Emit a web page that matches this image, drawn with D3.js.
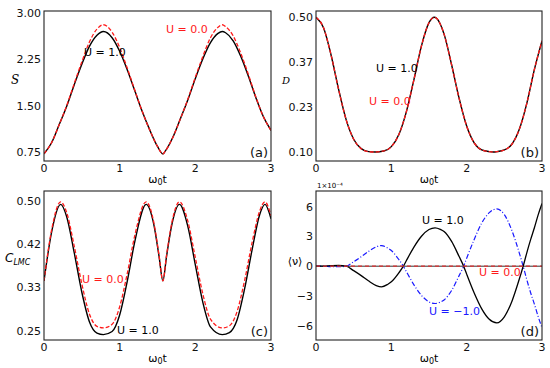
<!DOCTYPE html>
<html lang="en">
<head>
<meta charset="UTF-8">
<title>Entropy, disequilibrium, LMC complexity</title>
<script src="https://cdn.jsdelivr.net/npm/d3@7"></script>
<style>
    body { margin: 0; background: #fff; }
    svg { font-family: "DejaVu Sans", sans-serif; }
    .frame { fill: none; stroke: #222; stroke-width: 1.1px; }
    .tick-label { font-size: 11px; fill: #111; }
    .line { fill: none; }
    .note { font-size: 11px; }
    .panel-tag { font-size: 13px; fill: #111; }
</style>
</head>
<body>
<div id="chart"></div>
<script>
// time grids (omega_0 t)
const tAB = [0, 0.1, 0.2, 0.3, 0.4, 0.5, 0.6, 0.7, 0.785, 0.9, 1.0, 1.1, 1.2, 1.3, 1.4, 1.5, 1.571,
    1.6, 1.7, 1.8, 1.9, 2.0, 2.1, 2.2, 2.3, 2.356, 2.4, 2.5, 2.6, 2.7, 2.8, 2.9, 3.0];
const tC = [0, 0.1, 0.22, 0.3, 0.4, 0.5, 0.6, 0.7, 0.785, 0.9, 1.0, 1.1, 1.2, 1.35, 1.45, 1.52, 1.571,
    1.62, 1.69, 1.79, 1.9, 2.0, 2.1, 2.2, 2.356, 2.45, 2.55, 2.65, 2.75, 2.85, 2.92, 3.0];
const tD = [0, 0.1, 0.2, 0.3, 0.4, 0.5, 0.6, 0.7, 0.8, 0.87, 0.95, 1.0, 1.1, 1.16, 1.2, 1.3, 1.4, 1.5,
    1.58, 1.65, 1.7, 1.8, 1.9, 1.96, 2.0, 2.1, 2.2, 2.3, 2.4, 2.5, 2.6, 2.7, 2.75, 2.8, 2.85, 2.9, 2.95, 3.0];

// (a) entropy S
const sU1 = [0.72, 0.90, 1.19, 1.49, 1.84, 2.17, 2.46, 2.64, 2.70, 2.60, 2.38, 2.08, 1.74, 1.40, 1.10, 0.84, 0.72,
    0.76, 0.98, 1.28, 1.59, 1.94, 2.26, 2.52, 2.67, 2.70, 2.68, 2.55, 2.30, 1.98, 1.63, 1.32, 1.10];
const sU0 = [0.72, 0.90, 1.19, 1.50, 1.86, 2.21, 2.53, 2.74, 2.81, 2.69, 2.44, 2.11, 1.75, 1.40, 1.10, 0.84, 0.72,
    0.76, 0.98, 1.28, 1.60, 1.96, 2.30, 2.60, 2.77, 2.81, 2.78, 2.63, 2.35, 2.01, 1.64, 1.32, 1.10];

// (b) disequilibrium D
const dU1 = [0.500, 0.469, 0.388, 0.286, 0.196, 0.138, 0.110, 0.101, 0.100, 0.103, 0.116, 0.152, 0.220, 0.315, 0.415, 0.484, 0.500,
    0.497, 0.450, 0.359, 0.259, 0.177, 0.127, 0.106, 0.101, 0.100, 0.101, 0.106, 0.123, 0.168, 0.246, 0.346, 0.430];
const dU0 = [0.500, 0.469, 0.388, 0.286, 0.196, 0.138, 0.110, 0.101, 0.100, 0.103, 0.116, 0.152, 0.220, 0.315, 0.415, 0.484, 0.500,
    0.497, 0.450, 0.359, 0.259, 0.177, 0.127, 0.106, 0.101, 0.100, 0.101, 0.106, 0.123, 0.168, 0.246, 0.346, 0.430];

// (c) LMC complexity
const cU1 = [0.346, 0.440, 0.494, 0.470, 0.400, 0.324, 0.267, 0.245, 0.242, 0.248, 0.280, 0.345, 0.422, 0.494, 0.456, 0.394, 0.346,
    0.394, 0.455, 0.494, 0.452, 0.377, 0.304, 0.257, 0.242, 0.246, 0.270, 0.330, 0.406, 0.474, 0.494, 0.466];
const cU0 = [0.346, 0.444, 0.499, 0.478, 0.413, 0.340, 0.282, 0.258, 0.255, 0.262, 0.296, 0.360, 0.434, 0.499, 0.460, 0.396, 0.346,
    0.396, 0.459, 0.499, 0.462, 0.391, 0.320, 0.272, 0.255, 0.259, 0.286, 0.346, 0.420, 0.481, 0.499, 0.472];

// (d) <nu>, units of 1e-4
const nU1 = [0, 0.0, 0.05, 0.08, 0.0, -0.45, -0.95, -1.5, -1.95, -2.08, -1.84, -1.58, -0.67, 0, 0.57, 1.93, 3.02, 3.7,
    3.87, 3.72, 3.5, 2.5, 0.97, 0, -0.8, -2.7, -4.3, -5.35, -5.71, -5.1, -3.55, -1.27, 0, 1.4, 2.7, 3.9, 5.2, 6.32];
const nUm1 = [0, 0.0, -0.05, -0.05, 0.0, 0.45, 0.95, 1.5, 1.95, 2.08, 1.84, 1.58, 0.67, 0, -0.55, -1.88, -2.94, -3.6,
    -3.76, -3.62, -3.4, -2.45, -0.95, 0, 0.8, 2.7, 4.35, 5.4, 5.78, 5.2, 3.6, 1.3, 0, -1.4, -2.7, -3.85, -5.1, -6.2];
const nU0 = tD.map(() => 0);

const W = 550, H = 368;
const svg = d3.select("#chart").append("svg")
    .attr("width", W).attr("height", H);

function drawPanel(p) {
    const x = d3.scaleLinear().domain([0, 3]).range([p.x0, p.x1]);
    const y = d3.scaleLinear().domain(p.yDom).range(p.yRng);
    const g = svg.append("g");

    const clipId = "clip-" + p.tag;
    svg.append("clipPath").attr("id", clipId)
        .append("rect")
        .attr("x", p.x0).attr("y", p.y0)
        .attr("width", p.x1 - p.x0).attr("height", p.y1 - p.y0);

    const lines = g.append("g").attr("clip-path", `url(#${clipId})`);
    if (p.zeroLine) {
        lines.append("line")
            .attr("x1", p.x0).attr("x2", p.x1)
            .attr("y1", y(0)).attr("y2", y(0))
            .attr("stroke", "#333").attr("stroke-width", 1);
    }
    p.series.forEach(s => {
        const line = d3.line()
            .x((d, i) => x(s.t[i]))
            .y(d => y(d))
            .curve(d3.curveMonotoneX);
        lines.append("path")
            .classed("line", true)
            .attr("d", line(s.v))
            .attr("stroke", s.color)
            .attr("stroke-width", s.width)
            .attr("stroke-dasharray", s.dash || null);
    });

    g.append("rect").classed("frame", true)
        .attr("x", p.x0).attr("y", p.y0)
        .attr("width", p.x1 - p.x0).attr("height", p.y1 - p.y0);

    // x ticks
    g.selectAll(".xt").data([0, 1, 2, 3]).join("text")
        .attr("class", "tick-label")
        .attr("x", d => x(d)).attr("y", p.y1 + 11)
        .attr("text-anchor", "middle")
        .text(d => d);
    // y ticks
    g.selectAll(".yt").data(p.yTicks).join("text")
        .attr("class", "tick-label")
        .attr("x", p.x0 - 3).attr("y", d => y(d) + 4)
        .attr("text-anchor", "end")
        .text(d => p.fmt(d));

    // x label
    const xl = g.append("text")
        .attr("x", (p.x0 + p.x1) / 2).attr("y", p.y1 + 22)
        .attr("text-anchor", "middle").attr("font-size", 11);
    xl.append("tspan").text("ω");
    xl.append("tspan").attr("font-size", 8).attr("dy", 2).text("0");
    xl.append("tspan").attr("dy", -2).text("t");

    g.append("text").classed("panel-tag", true)
        .attr("x", p.x1 - 3).attr("y", p.y1 - 4)
        .attr("text-anchor", "end")
        .text(`(${p.tag})`);

    p.notes.forEach(n => {
        g.append("text").classed("note", true)
            .attr("x", n.x).attr("y", n.y)
            .attr("fill", n.color)
            .text(n.text);
    });
    return g;
}

const red = "#ff1a1a", blue = "#1a1aff";

const ga = drawPanel({
    tag: "a", x0: 44, x1: 271, y0: 11, y1: 161,
    yDom: [0.75, 3.0], yRng: [152, 13],
    yTicks: [0.75, 1.5, 2.25, 3.0], fmt: d3.format(".2f"),
    series: [
        { t: tAB, v: sU1, color: "#000", width: 1.4 },
        { t: tAB, v: sU0, color: red, width: 1.3, dash: "4,2" }
    ],
    notes: [
        { x: 84, y: 56, color: "#000", text: "U = 1.0" },
        { x: 166, y: 33, color: red, text: "U = 0.0" }
    ]
});
ga.append("text").attr("x", 15).attr("y", 84)
    .attr("font-family", "DejaVu Serif").attr("font-style", "italic")
    .attr("font-size", 12).attr("text-anchor", "middle").text("S");

const gb = drawPanel({
    tag: "b", x0: 316, x1: 542, y0: 11, y1: 161,
    yDom: [0.1, 0.5], yRng: [152, 17.3],
    yTicks: [0.1, 0.2333, 0.3667, 0.5], fmt: d3.format(".2f"),
    series: [
        { t: tAB, v: dU1, color: "#000", width: 1.4 },
        { t: tAB, v: dU0, color: red, width: 1.3, dash: "4,2" }
    ],
    notes: [
        { x: 376, y: 72, color: "#000", text: "U = 1.0" },
        { x: 369, y: 105, color: red, text: "U = 0.0" }
    ]
});
gb.append("text").attr("x", 286).attr("y", 84)
    .attr("font-family", "DejaVu Serif").attr("font-style", "italic")
    .attr("font-size", 10).attr("text-anchor", "middle").text("D");

const gc = drawPanel({
    tag: "c", x0: 44, x1: 271, y0: 191, y1: 340,
    yDom: [0.25, 0.5], yRng: [330.5, 201.3],
    yTicks: [0.25, 0.3333, 0.4167, 0.5], fmt: d3.format(".2f"),
    series: [
        { t: tC, v: cU1, color: "#000", width: 1.4 },
        { t: tC, v: cU0, color: red, width: 1.3, dash: "4,2" }
    ],
    notes: [
        { x: 82, y: 283, color: red, text: "U = 0.0" },
        { x: 117, y: 334, color: "#000", text: "U = 1.0" }
    ]
});
const cl = gc.append("text").attr("x", 5).attr("y", 262)
    .attr("font-family", "DejaVu Sans").attr("font-style", "italic").attr("font-size", 12);
cl.append("tspan").text("C");
cl.append("tspan").attr("font-size", 8).attr("dy", 3).text("LMC");

const gd = drawPanel({
    tag: "d", x0: 316, x1: 542, y0: 191, y1: 340,
    yDom: [-6, 6], yRng: [325.7, 206.7],
    yTicks: [-6, -3, 0, 3, 6], fmt: d3.format("d"),
    zeroLine: true,
    series: [
        { t: tD, v: nUm1, color: blue, width: 1.2, dash: "5,2,1,2" },
        { t: tD, v: nU1, color: "#000", width: 1.3 },
        { t: tD, v: nU0, color: "#e03030", width: 1.3, dash: "4,3" }
    ],
    notes: [
        { x: 422, y: 224, color: "#000", text: "U = 1.0" },
        { x: 479, y: 276, color: red, text: "U = 0.0" },
        { x: 429, y: 315, color: blue, text: "U = −1.0" }
    ]
});
gd.append("text").attr("x", 295).attr("y", 265)
    .attr("font-size", 11).attr("text-anchor", "middle").text("⟨ν⟩");
gd.append("text").attr("x", 317).attr("y", 188)
    .attr("font-size", 7).text("1×10⁻⁴");
</script>
</body>
</html>
